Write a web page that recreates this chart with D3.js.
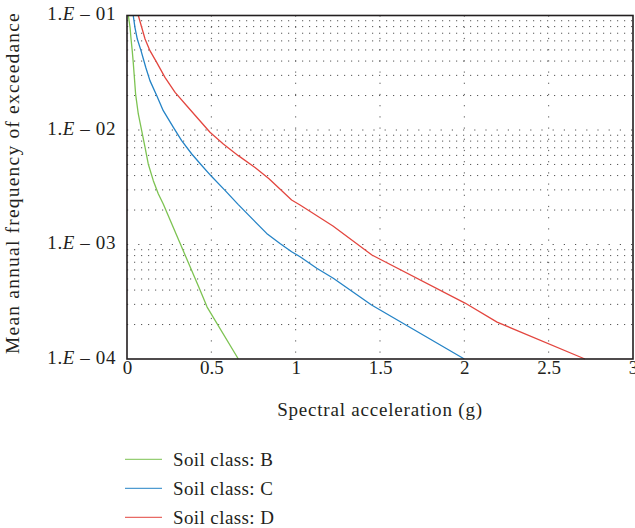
<!DOCTYPE html>
<html>
<head>
<meta charset="utf-8">
<script src="https://cdn.jsdelivr.net/npm/d3@7"></script>
<style>
body { margin: 0; background: #fff; }
svg text { font-family: "Liberation Serif", "DejaVu Serif", serif; fill: #231f20; }
</style>
</head>
<body>
<svg width="635" height="528"></svg>
<script>
// data: spectral acceleration (g) vs mean annual frequency
var soilB = [[0.008, 0.1], [0.018, 0.0789], [0.024, 0.0623], [0.031, 0.0493], [0.037, 0.039],
  [0.043, 0.0298], [0.051, 0.0206], [0.067, 0.0138], [0.087, 0.00986], [0.107, 0.00706],
  [0.126, 0.00505], [0.156, 0.00361], [0.186, 0.00276], [0.215, 0.00226], [0.314, 0.00103],
  [0.433, 0.0004], [0.475, 0.000284], [0.66, 0.0001]];
var soilC = [[0.037, 0.1], [0.047, 0.0789], [0.061, 0.0623], [0.083, 0.0493], [0.111, 0.0353],
  [0.136, 0.027], [0.176, 0.02], [0.215, 0.01475], [0.275, 0.01055], [0.324, 0.00807],
  [0.384, 0.00617], [0.438, 0.005], [0.502, 0.00392], [0.581, 0.00297], [0.66, 0.00223],
  [0.749, 0.00164], [0.828, 0.00125], [0.907, 0.00102], [0.976, 0.000865], [1.026, 0.000782],
  [1.125, 0.00062], [1.223, 0.000507], [1.45, 0.000296], [2.0, 0.0001]];
var soilD = [[0.067, 0.1], [0.087, 0.0789], [0.107, 0.0623], [0.136, 0.0493], [0.176, 0.039],
  [0.225, 0.0288], [0.285, 0.0213], [0.354, 0.0163], [0.423, 0.01248], [0.492, 0.00955],
  [0.571, 0.00755], [0.66, 0.00597], [0.759, 0.0047], [0.842, 0.00375], [0.976, 0.00245],
  [1.026, 0.00221], [1.221, 0.00145], [1.452, 0.00081], [2.004, 0.000308], [2.194, 0.00021],
  [2.715, 0.0001]];
var seriesNames = ["Soil class: B", "Soil class: C", "Soil class: D"];
var seriesColors = ["#7dc352", "#2483c6", "#e3463f"];
var xTicks = [0, 0.5, 1, 1.5, 2, 2.5, 3];
var yTicks = [1e-1, 1e-2, 1e-3, 1e-4];
var yTickLabels = ["01", "02", "03", "04"];

var svg = d3.select("svg");
var margin = {left: 127, top: 15.5, right: 633, bottom: 359};

var x = d3.scaleLinear().domain([0, 3]).range([margin.left, margin.right]);
var y = d3.scaleLog().domain([1e-4, 1e-1]).range([margin.bottom, margin.top]);

// minor horizontal grid (2..9 in each decade)
var minor = [];
[1e-4, 1e-3, 1e-2].forEach(function(d) {
  for (var k = 2; k <= 9; k++) minor.push(d * k);
});

var grid = svg.append("g");
grid.selectAll("line.h")
  .data(minor)
  .enter().append("line")
  .attr("x1", margin.left).attr("x2", margin.right)
  .attr("y1", function(d) { return y(d); })
  .attr("y2", function(d) { return y(d); })
  .style("stroke", "#555")
  .style("stroke-width", 1)
  .style("stroke-dasharray", "1.2,5.8");

grid.selectAll("line.hm")
  .data([1e-2, 1e-3])
  .enter().append("line")
  .attr("x1", margin.left).attr("x2", margin.right)
  .attr("y1", function(d) { return y(d); })
  .attr("y2", function(d) { return y(d); })
  .style("stroke", "#555")
  .style("stroke-width", 1)
  .style("stroke-dasharray", "1.2,10");

grid.selectAll("line.v")
  .data(xTicks.slice(1, 6))
  .enter().append("line")
  .attr("x1", function(d) { return x(d); })
  .attr("x2", function(d) { return x(d); })
  .attr("y1", margin.top).attr("y2", margin.bottom)
  .style("stroke", "#555")
  .style("stroke-width", 1)
  .style("stroke-dasharray", "1.2,10");

// curves
var line = d3.line()
  .x(function(d) { return x(d[0]); })
  .y(function(d) { return y(d[1]); });

svg.append("g").selectAll("path")
  .data([soilB, soilC, soilD])
  .enter().append("path")
  .attr("d", line)
  .style("fill", "none")
  .style("stroke", function(d, i) { return seriesColors[i]; })
  .style("stroke-width", 1.3)
  .style("stroke-linejoin", "round");

// frame
svg.append("rect")
  .attr("x", margin.left).attr("y", margin.top)
  .attr("width", margin.right - margin.left)
  .attr("height", margin.bottom - margin.top)
  .style("fill", "none")
  .style("stroke", "#231f20")
  .style("stroke-width", 1.6);

// x axis labels
var xAxis = d3.axisBottom(x).tickValues(xTicks).tickSize(0).tickPadding(0)
  .tickFormat(function(d) { return d3.format("")(d); });
var gx = svg.append("g")
  .attr("transform", "translate(0," + margin.bottom + ")")
  .call(xAxis);
gx.select(".domain").remove();
gx.selectAll("text")
  .attr("dy", null)
  .attr("y", 14.5)
  .style("font-size", "19px")
  .style("font-family", "Liberation Serif")
  .style("fill", "#231f20");

// y axis labels with italic E
var ty = svg.append("g").selectAll("text")
  .data(yTicks)
  .enter().append("text")
  .attr("x", 116)
  .attr("y", function(d) { return y(d) + 4.5; })
  .attr("text-anchor", "end")
  .style("font-size", "19px")
  .style("letter-spacing", "0.6px");
ty.append("tspan").text("1.");
ty.append("tspan").style("font-style", "italic").text("E");
ty.append("tspan").text(function(d, i) { return " \u2013 " + yTickLabels[i]; });

// axis titles
svg.append("text")
  .attr("x", 380)
  .attr("y", 416)
  .attr("text-anchor", "middle")
  .style("font-size", "19px")
  .style("letter-spacing", "0.8px")
  .text("Spectral acceleration (g)");

svg.append("text")
  .attr("transform", "translate(19,183) rotate(-90)")
  .attr("text-anchor", "middle")
  .style("font-size", "19.5px")
  .style("letter-spacing", "1.2px")
  .text("Mean annual frequency of exceedance");

// legend
var legend = svg.append("g").selectAll("g")
  .data(seriesNames)
  .enter().append("g")
  .attr("transform", function(d, i) { return "translate(125," + (459.3 + i * 29) + ")"; });
legend.append("line")
  .attr("x1", 0).attr("x2", 37)
  .style("stroke", function(d, i) { return seriesColors[i]; })
  .style("stroke-width", 1.3)
  .style("opacity", 0.8);
legend.append("text")
  .attr("x", 48)
  .attr("y", 6.7)
  .style("font-size", "19px")
  .style("letter-spacing", "0.4px")
  .text(function(d) { return d; });
</script>
</body>
</html>
